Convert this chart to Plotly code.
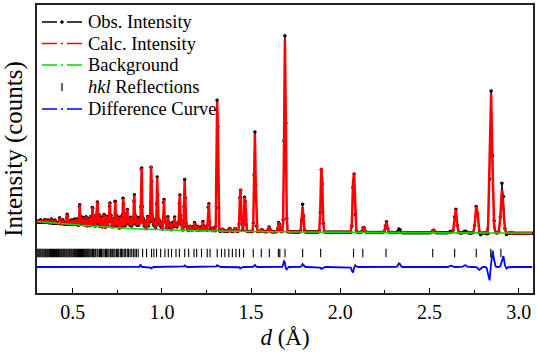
import numpy as np
import plotly.graph_objects as go

# ---------------- data ----------------
peak_d = [0.380, 0.427, 0.469, 0.539, 0.611, 0.639, 0.708, 0.738, 0.783, 0.806,
          0.845, 0.886, 0.940, 0.974, 1.011, 1.034, 1.071, 1.100, 1.128, 1.184,
          1.230, 1.262, 1.311, 1.440, 1.465, 1.521, 1.601, 1.656, 1.690, 1.789,
          1.895, 2.075, 2.131, 2.258, 2.522, 2.646, 2.764, 2.845, 2.907]
peak_h = [370, 570, 1000, 2170, 2040, 2650, 2580, 2950, 3100, 1850,
          3560, 6900, 6630, 5330, 3350, 1340, 1340, 3680, 5000, 850,
          950, 3000, 13800, 4600, 3800, 9800, 470, 1000, 19300, 2500,
          6900, 6600, 570, 1100, 280, 2470, 2870, 13900, 4400]
weak_d = [0.320, 0.345, 0.360, 0.400, 0.445, 0.490, 0.505, 0.515, 0.525, 0.548,
          0.556, 0.565, 0.575, 0.588, 0.600, 0.620, 0.632, 0.648, 0.660, 0.675,
          0.690, 0.700, 0.715, 0.727, 0.745, 0.755, 0.770, 0.790, 0.800, 0.815,
          0.825, 0.835, 0.855, 0.865, 0.875, 0.895, 0.905, 0.920, 0.930, 0.950,
          0.960, 0.985, 0.995, 1.020, 1.045, 1.060, 1.080, 1.090, 1.110, 1.140,
          1.160, 1.175, 1.200, 1.215, 1.245, 1.275, 1.290, 1.340, 1.380, 1.410,
          1.560]
weak_h = [200, 250, 250, 300, 400, 450, 500, 600, 550, 700,
          800, 650, 900, 750, 1000, 1100, 900, 1200, 1000, 1300,
          1100, 900, 1200, 1000, 1300, 1100, 1200, 1000, 1300, 1100,
          1200, 900, 1300, 1000, 1200, 1100, 900, 1300, 1000, 1100,
          900, 1000, 800, 900, 700, 800, 600, 700, 600, 500,
          500, 400, 450, 350, 400, 300, 300, 200, 300, 300,
          200]
bg_d = [0.30, 0.40, 0.50, 0.60, 0.75, 1.00, 1.25, 1.50, 2.00, 2.50, 3.08]
bg_v = [1850, 1700, 1550, 1400, 1200, 1000, 900, 850, 770, 720, 680]
diff_d = [0.880, 0.940, 1.128, 1.311, 1.440, 1.521, 1.686, 1.697, 1.789, 1.895,
          2.070, 2.082, 2.330, 2.620, 2.700, 2.780, 2.836, 2.853, 2.913, 2.925]
diff_h = [250, -150, 150, 200, -150, 200, 700, -300, 300, -200,
          -600, 200, 400, 150, 200, -300, -1450, 1700, 1200, -300]
diff_offset = -2700
hkl_d = [0.301, 0.306, 0.312, 0.317, 0.322, 0.328, 0.333, 0.339, 0.344, 0.349,
         0.355, 0.360, 0.366, 0.371, 0.376, 0.382, 0.387, 0.393, 0.398, 0.403,
         0.409, 0.414, 0.420, 0.425, 0.430, 0.436, 0.441, 0.447, 0.452, 0.457,
         0.463, 0.468, 0.474, 0.479, 0.484, 0.490, 0.495, 0.501, 0.506, 0.511,
         0.517, 0.522, 0.528, 0.533, 0.538, 0.544, 0.549, 0.555, 0.560, 0.565,
         0.571, 0.576, 0.582, 0.587, 0.592, 0.598,
         0.604, 0.611, 0.616, 0.624, 0.629, 0.637, 0.642, 0.650, 0.656, 0.661,
         0.669, 0.676, 0.684, 0.690, 0.697, 0.703, 0.711, 0.716, 0.724, 0.731,
         0.737, 0.745, 0.752, 0.758, 0.767, 0.774, 0.781, 0.789, 0.797, 0.806,
         0.813, 0.822, 0.831, 0.840, 0.849, 0.857,
         0.867, 0.892, 0.914, 0.942, 0.955, 0.970, 0.993, 1.017, 1.036, 1.054,
         1.079, 1.098, 1.128, 1.150, 1.180, 1.195, 1.222, 1.254, 1.270, 1.310,
         1.334, 1.353, 1.375, 1.395, 1.415, 1.435, 1.458, 1.512, 1.557, 1.602,
         1.653, 1.661, 1.690, 1.789, 1.890, 2.074, 2.126, 2.256, 2.518, 2.641,
         2.762, 2.843, 2.900]
hkl_y = -1300

x_ticks = [0.5, 1.0, 1.5, 2.0, 2.5, 3.0]
x_tick_text = ["0.5", "1.0", "1.5", "2.0", "2.5", "3.0"]

legend_names = ["Obs. Intensity", "Calc. Intensity", "Background",
                "<i>hkl</i> Reflections", "Difference Curve"]
legend_colors = ["black", "#ff0000", "#00dd00", "black", "#0000ff"]

# ---------------- build profiles (TOF grid, constant Δd/d) ----------------
d = 0.30 * (1.003 ** np.arange(0, 800))
d = d[d <= 3.08]

def sigma(x):
    return 0.0022 * x + 0.0006

bg = np.interp(d, bg_d, bg_v)
calc = bg.copy()
for pd_, ph in list(zip(peak_d, peak_h)) + list(zip(weak_d, weak_h)):
    calc += ph * np.exp(-0.5 * ((d - pd_) / sigma(pd_)) ** 2)
diff = np.zeros_like(d)
for dd, dh in zip(diff_d, diff_h):
    diff += dh * np.exp(-0.5 * ((d - dd) / sigma(dd)) ** 2)
obs = calc + diff

SERIF = "Liberation Serif"

fig = go.Figure()
fig.add_trace(go.Scatter(x=d, y=obs, mode="lines+markers", line=dict(color="black", width=1),
                         marker=dict(color="black", size=3.5), showlegend=False))
fig.add_trace(go.Scatter(x=d, y=calc, mode="lines", line=dict(color="#ff0000", width=2.5),
                         showlegend=False))
fig.add_trace(go.Scatter(x=d, y=bg, mode="lines", line=dict(color="#00dd00", width=1.5),
                         showlegend=False))
fig.add_trace(go.Scatter(x=hkl_d, y=[hkl_y] * len(hkl_d), mode="markers",
                         marker=dict(symbol="line-ns", size=6, color="black",
                                     line=dict(color="black", width=1.1)),
                         showlegend=False))
fig.add_trace(go.Scatter(x=d, y=diff + diff_offset, mode="lines",
                         line=dict(color="#0000ff", width=1.8), showlegend=False))

# ---- hand-built legend (plot area: x 37..533 px, y 5..293 px) ----
def px(xp):
    return (xp - 37) / 496.0

def py(yp):
    return (293 - yp) / 288.0

rows = [22, 43.5, 65, 87, 109]
shapes = []
annotations = []
for i, (name, col) in enumerate(zip(legend_names, legend_colors)):
    y = rows[i]
    if i == 3:
        shapes.append(dict(type="line", xref="paper", yref="paper",
                           x0=px(62), x1=px(62), y0=py(y - 4), y1=py(y + 4),
                           line=dict(color="black", width=1.2)))
    else:
        shapes.append(dict(type="line", xref="paper", yref="paper",
                           x0=px(42), x1=px(82), y0=py(y), y1=py(y),
                           line=dict(color=col, width=1.5, dash="15px,4px,2px,4px,15px")))
    if i == 0:
        shapes.append(dict(type="circle", xref="paper", yref="paper",
                           x0=px(60.5), x1=px(63.5), y0=py(y + 1.5), y1=py(y - 1.5),
                           fillcolor="black", line=dict(color="black", width=0.5)))
    annotations.append(dict(text=name, xref="paper", yref="paper", x=px(86), y=py(y),
                            xanchor="left", yanchor="middle", showarrow=False,
                            font=dict(size=18.5, family=SERIF, color="black")))

fig.update_layout(
    width=537, height=358,
    margin=dict(l=37, r=4, t=5, b=65),
    paper_bgcolor="white", plot_bgcolor="white",
    font=dict(family=SERIF, color="black"),
    showlegend=False,
    shapes=shapes, annotations=annotations,
    xaxis=dict(range=[0.3, 3.08], tickvals=x_ticks, ticktext=x_tick_text,
               ticks="inside", ticklen=5, tickwidth=1.2, tickcolor="black",
               minor=dict(ticks="inside", ticklen=3, tickvals=[0.75, 1.25, 1.75, 2.25, 2.75],
                          tickcolor="black", tickwidth=1.2),
               showline=True, linecolor="#222", linewidth=1.6, mirror=True,
               showgrid=False, zeroline=False, automargin=False,
               tickfont=dict(size=20, family=SERIF, color="black"),
               title=dict(text="<i>d</i> (Å)", font=dict(size=23, family=SERIF, color="black"),
                          standoff=7)),
    yaxis=dict(range=[-5300, 23500], showticklabels=False, ticks="",
               showline=True, linecolor="#222", linewidth=1.6, mirror=True,
               showgrid=False, zeroline=False, automargin=False,
               title=dict(text="Intensity (counts)", font=dict(size=25, family=SERIF, color="black"),
                          standoff=9)),
)

fig.write_html("out.html", config={"displayModeBar": False},
               post_script="document.body.style.margin='0';document.body.style.padding='0';")
